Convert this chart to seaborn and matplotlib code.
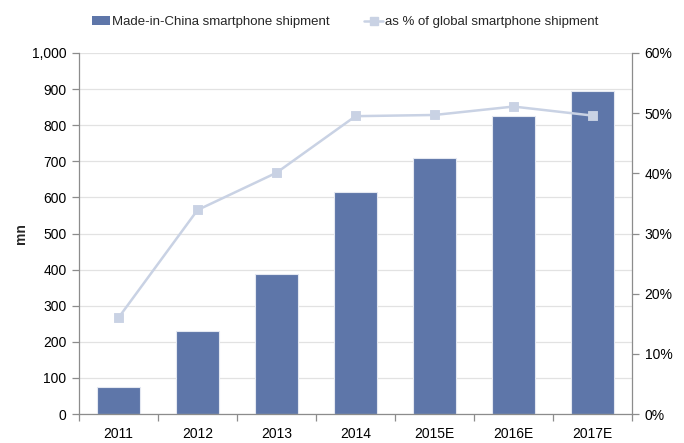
import matplotlib
matplotlib.use("Agg")
import matplotlib.pyplot as plt
from matplotlib.lines import Line2D
from matplotlib.patches import Patch
from matplotlib.ticker import FuncFormatter, MultipleLocator, FixedLocator
import seaborn as sns
import pandas as pd

years = ["2011", "2012", "2013", "2014", "2015E", "2016E", "2017E"]
shipment_mn = [75, 231, 388, 615, 708, 825, 894]
share_pct = [16.0, 33.9, 40.1, 49.5, 49.7, 51.1, 49.6]

bar_color = "#5E76A9"
line_color = "#C9D2E4"
axis_color = "#8C8C8C"

sns.set_theme(style="white")
plt.rcParams["font.family"] = ["Liberation Sans", "DejaVu Sans"]
plt.rcParams["font.size"] = 10

df = pd.DataFrame({"year": years, "shipment": shipment_mn, "share": share_pct})

fig = plt.figure(figsize=(6.84, 4.43), dpi=100)
ax = fig.add_axes([79 / 684, 1 - 414 / 443, (632 - 79) / 684, (414 - 53) / 443])

sns.barplot(data=df, x="year", y="shipment", color=bar_color, width=0.54,
            saturation=1, edgecolor="#E4E8F1", linewidth=0.8, ax=ax, zorder=2)
ax.set_ylim(0, 1000)
ax.set_xlim(-0.5, len(years) - 0.5)
ax.yaxis.set_major_locator(MultipleLocator(100))
ax.yaxis.set_major_formatter(FuncFormatter(lambda v, p: f"{int(v):,}"))
ax.grid(axis="y", color="#E2E2E2", linewidth=0.9, zorder=0)
ax.set_axisbelow(True)
ax.set_xlabel("")
ax.set_ylabel("mn", fontweight="bold", fontsize=10)
ax.yaxis.set_label_coords((28 - 79) / 553, 0.5)

ax2 = ax.twinx()
sns.pointplot(data=df, x="year", y="share", color=line_color, markers="s",
              linestyles="-", markersize=6, linewidth=1.8, ax=ax2, zorder=3)
ax2.set_ylim(0, 60)
ax2.set_xlim(-0.5, len(years) - 0.5)
ax2.yaxis.set_major_locator(MultipleLocator(10))
ax2.yaxis.set_major_formatter(FuncFormatter(lambda v, p: f"{int(v)}%"))
ax2.set_ylabel("")
ax2.set_xlabel("")
ax2.grid(False)

for a in (ax, ax2):
    a.spines["top"].set_visible(False)
    for s in ("left", "right", "bottom"):
        a.spines[s].set_color(axis_color)
        a.spines[s].set_linewidth(0.9)
ax2.spines["left"].set_visible(False)
ax2.spines["bottom"].set_visible(False)
ax.spines["right"].set_visible(False)

# category boundary tick marks on the x axis
ax.xaxis.set_minor_locator(FixedLocator([i - 0.5 for i in range(len(years) + 1)]))
ax.tick_params(axis="x", which="major", length=0, pad=9, labelsize=10, labelcolor="black")
ax.tick_params(axis="x", which="minor", length=5, width=0.9, color=axis_color, direction="out", bottom=True)
ax.tick_params(axis="y", length=5, width=0.9, color=axis_color, direction="out", left=True,
               labelsize=10, labelcolor="black", pad=4)
ax2.tick_params(axis="y", length=5, width=0.9, color=axis_color, direction="out", right=True,
                labelsize=10, labelcolor="black", pad=4)

handles = [
    Patch(facecolor=bar_color, edgecolor="none"),
    Line2D([0], [0], color=line_color, lw=1.8, marker="s", markersize=6,
           markerfacecolor=line_color, markeredgecolor=line_color),
]
fig.legend(handles, ["Made-in-China smartphone shipment", "as % of global smartphone shipment"],
           loc="center", bbox_to_anchor=(345 / 684, 1 - 22 / 443), ncol=2, frameon=False,
           fontsize=9.5, handlelength=1.4, handletextpad=0.15, columnspacing=2.6,
           handleheight=0.6, borderaxespad=0, borderpad=0)

fig.savefig("out.png", dpi=100)
